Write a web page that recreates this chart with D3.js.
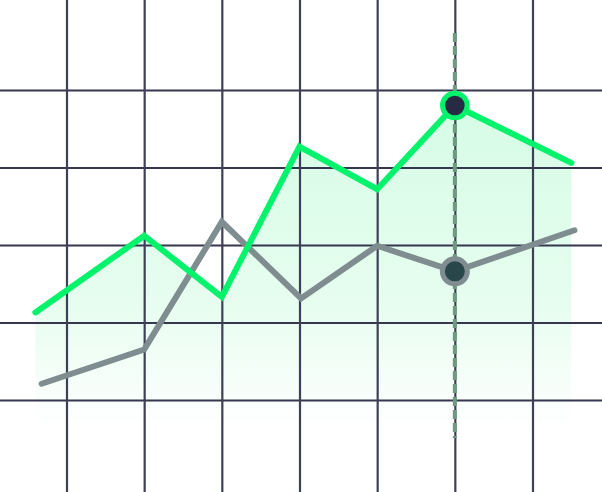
<!DOCTYPE html>
<html>
<head>
<meta charset="utf-8">
<script src="https://cdn.jsdelivr.net/npm/d3@7"></script>
<style>
html,body{margin:0;padding:0;background:#fff;}
svg{display:block;}
</style>
</head>
<body>
<script>
// Data (grid units)
const greenX = [0.60, 2, 3, 4, 5, 6, 7.50];
const greenValues = [1.13, 2.12, 1.33, 3.27, 2.72, 3.8, 3.06];
const grayX = [0.68, 2, 3, 4.02, 5, 6, 7.54];
const grayValues  = [0.21, 0.65, 2.30, 1.31, 1.99, 1.66, 2.19];
const xGridTicks = [1, 2, 3, 4, 5, 6, 7];
const yGridTicks = [0, 1, 2, 3, 4];
const highlightIndex = 5;

const W = 602, H = 492;
const svg = d3.select("body").append("svg").attr("width", W).attr("height", H);

const x = d3.scaleLinear().domain([1, 7]).range([66.5, 532.5]);
const y = d3.scaleLinear().domain([0, 4]).range([400, 90]);

const defs = svg.append("defs");
const grad = defs.append("linearGradient").attr("id", "areaGrad")
  .attr("gradientUnits", "userSpaceOnUse")
  .attr("x1", 0).attr("y1", y(3.8)).attr("x2", 0).attr("y2", 428);
grad.append("stop").attr("offset", "0%").attr("stop-color", "#d6fce6");
grad.append("stop").attr("offset", "60%").attr("stop-color", "#e6fdef");
grad.append("stop").attr("offset", "100%").attr("stop-color", "#ffffff");

// area
const area = d3.area()
  .x((d, i) => x(greenX[i]))
  .y0(428)
  .y1(d => y(d));
svg.append("path").datum(greenValues).attr("d", area).attr("fill", "url(#areaGrad)");

// grid
const gY = svg.append("g").attr("transform", `translate(${W},0)`)
  .call(d3.axisRight(y).tickValues(yGridTicks).tickSize(-W).tickFormat(""));
gY.select(".domain").remove();
gY.selectAll("line").attr("stroke", "#35374e").attr("stroke-width", 2.2);

const gX = svg.append("g").attr("transform", `translate(0,${H})`)
  .call(d3.axisTop(x).tickValues(xGridTicks).tickSize(H).tickFormat(""));
gX.select(".domain").remove();
gX.selectAll("line").attr("stroke", "#3e4058").attr("stroke-width", 2.2);

// dashed highlight line
svg.append("line")
  .attr("x1", x(greenX[highlightIndex])).attr("x2", x(greenX[highlightIndex]))
  .attr("y1", 33).attr("y2", 438)
  .attr("stroke", "#6e9a80").attr("stroke-width", 4)
  .attr("stroke-dasharray", "9,4");

const lineGreen = d3.line().x((d, i) => x(greenX[i])).y(d => y(d));
const lineGray = d3.line().x((d, i) => x(grayX[i])).y(d => y(d));

svg.append("path").datum(grayValues).attr("d", lineGray)
  .attr("fill", "none").attr("stroke", "#7f8d90").attr("stroke-width", 6)
  .attr("stroke-linecap", "round").attr("stroke-linejoin", "miter");

svg.append("path").datum(greenValues).attr("d", lineGreen)
  .attr("fill", "none").attr("stroke", "#00f36a").attr("stroke-width", 6)
  .attr("stroke-linecap", "round").attr("stroke-linejoin", "miter");

// markers
svg.append("circle")
  .attr("cx", x(grayX[highlightIndex])).attr("cy", y(grayValues[highlightIndex]))
  .attr("r", 12.5).attr("fill", "#29474a").attr("stroke", "#7f8d90").attr("stroke-width", 5);
svg.append("circle")
  .attr("cx", x(greenX[highlightIndex])).attr("cy", y(greenValues[highlightIndex]))
  .attr("r", 12.3).attr("fill", "#262a42").attr("stroke", "#00f36a").attr("stroke-width", 5);
</script>
</body>
</html>
